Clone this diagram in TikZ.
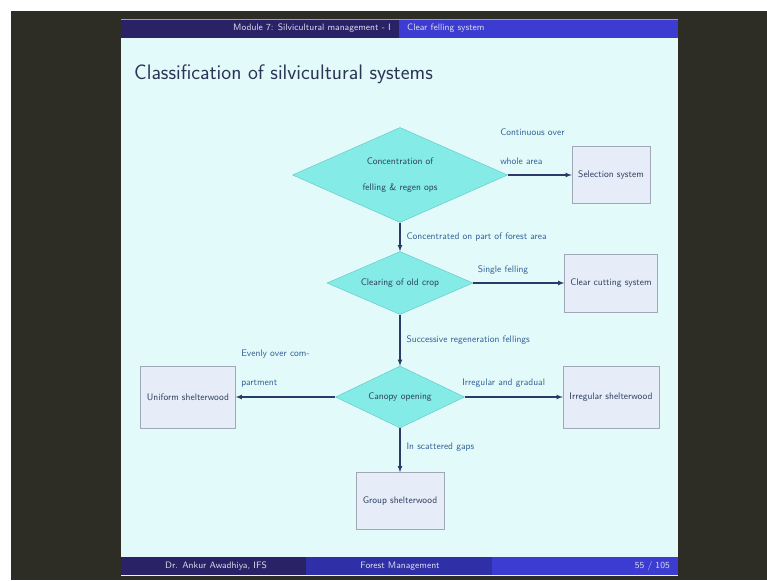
\documentclass[tikz,border=0pt]{standalone}
\usepackage{tikz}
\usetikzlibrary{shapes.geometric}

\definecolor{roomdark}{HTML}{2D2C25}
\definecolor{slidebg}{HTML}{E3FAFA}
\definecolor{barnavy}{HTML}{2A2266}
\definecolor{barmid}{HTML}{2F2FA8}
\definecolor{barblue}{HTML}{3C3CD2}
\definecolor{barline}{HTML}{8FA0E0}
\definecolor{bartext}{HTML}{DCDCEC}
\definecolor{titletext}{HTML}{2B3655}
\definecolor{diamondfill}{HTML}{84EBE6}
\definecolor{diamondline}{HTML}{5CC4C4}
\definecolor{boxfill}{HTML}{E6ECF8}
\definecolor{boxline}{HTML}{A0A8B8}
\definecolor{nodetext}{HTML}{2C3E5C}
\definecolor{tagtext}{HTML}{2F5F96}
\definecolor{arrowline}{HTML}{2B3A66}

\begin{document}
\begin{tikzpicture}[
        x=1pt, y=-1pt,
        font=\sffamily,
        decision/.style = {diamond, draw=diamondline, fill=diamondfill, inner sep=0pt,
                           text=nodetext, align=center, font=\sffamily\fontsize{9.5}{26}\selectfont},
        system/.style = {rectangle, draw=boxline, fill=boxfill, inner sep=0pt,
                         text=nodetext, font=\sffamily\fontsize{9.5}{12}\selectfont},
        tag/.style = {text=tagtext, inner sep=2pt, font=\sffamily\fontsize{9.5}{29}\selectfont},
        bartext/.style = {text=bartext, inner sep=0pt, font=\sffamily\fontsize{9.3}{11}\selectfont},
        flow/.style = {->, draw=arrowline, line width=1.1pt},
        >=latex
        ]

        \useasboundingbox (0,0) rectangle (767,580);

        % photo surround and slide
        \fill[white] (0,0) rectangle (767,580);
        \fill[roomdark] (11,11) rectangle (767,580);
        \fill[slidebg] (121,19) rectangle (678,576);

        % headline
        \fill[barnavy] (121,19) rectangle (399,38);
        \fill[barblue] (399,19) rectangle (678,38);
        \fill[barline] (121,19) rectangle (678,20.5);
        \node (head1) at (391,28) [bartext, anchor=east] {Module 7: Silvicultural management - I};
        \node (head2) at (407,28) [bartext, anchor=west] {Clear felling system};

        % footline
        \fill[barnavy] (121,557) rectangle (306,575);
        \fill[barmid] (306,557) rectangle (492,575);
        \fill[barblue] (492,557) rectangle (678,575);
        \node (foot1) at (216,566) [bartext] {Dr. Ankur Awadhiya, IFS};
        \node (foot2) at (400,566) [bartext] {Forest Management};
        \node (foot3) at (670,566) [bartext, anchor=east] {55 / 105};

        % frame title
        \node (title) at (134,80) [anchor=base west, inner sep=0pt, text=titletext,
                                   font=\sffamily\fontsize{21}{25}\selectfont] {Classification of silvicultural systems};

        % decisions
        \node (d1) at (400,175) [decision, aspect=2.26, minimum width=215pt, minimum height=95pt] {Concentration of\\felling \& regen ops};
        \node (d2) at (400,283) [decision, aspect=2.32, minimum width=146pt, minimum height=63pt] {Clearing of old crop};
        \node (d3) at (400,397) [decision, aspect=2.08, minimum width=129pt, minimum height=62pt] {Canopy opening};

        % systems
        \node (sel) at (611,175) [system, minimum width=78pt, minimum height=57pt] {Selection system};
        \node (cc)  at (611,283) [system, minimum width=93pt, minimum height=58pt] {Clear cutting system};
        \node (us)  at (188,397) [system, minimum width=95pt, minimum height=62pt] {Uniform shelterwood};
        \node (ir)  at (611,397) [system, minimum width=96pt, minimum height=62pt] {Irregular shelterwood};
        \node (grp) at (400,501) [system, minimum width=88pt, minimum height=57pt] {Group shelterwood};

        \draw[flow] (d1) -- (sel) node[tag, at start, anchor=south west, align=left, xshift=-10pt, yshift=8pt] {Continuous over\\whole area};
        \draw[flow] (d1) -- (d2) node[tag, midway, anchor=west, xshift=4pt] {Concentrated on part of forest area};
        \draw[flow] (d2) -- (cc) node[tag, at start, anchor=south west, xshift=2pt, yshift=6pt] {Single felling};
        \draw[flow] (d2) -- (d3) node[tag, midway, anchor=west, xshift=4pt] {Successive regeneration fellings};
        \draw[flow] (d3) -- (us) node[tag, at end, anchor=south west, align=left, xshift=3pt, yshift=7pt] {Evenly over com-\\partment};
        \draw[flow] (d3) -- (ir) node[tag, at start, anchor=south west, xshift=-5pt, yshift=7pt] {Irregular and gradual};
        \draw[flow] (d3) -- (grp) node[tag, pos=0.42, anchor=west, xshift=4pt] {In scattered gaps};
    \end{tikzpicture}
\end{document}
